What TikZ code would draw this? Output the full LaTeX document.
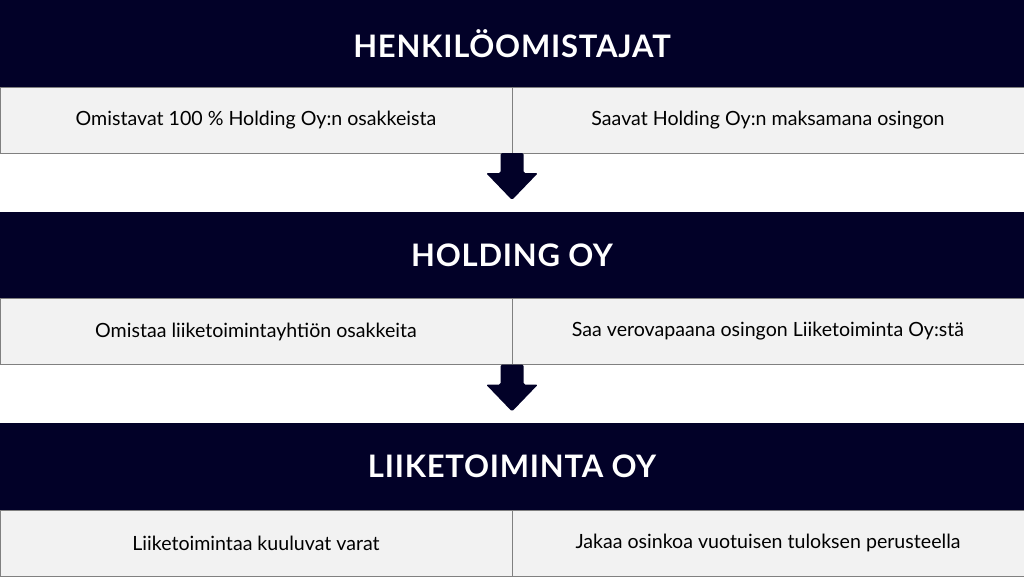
\documentclass[tikz,border=0pt]{standalone}
\usepackage{fontspec}
\setmainfont{Lato}
\newfontfamily\headfont[LetterSpace=2.5]{Lato}
\usetikzlibrary{positioning}

\definecolor{navy}{RGB}{2,1,40}
\definecolor{cellgrey}{RGB}{242,242,242}
\definecolor{linegrey}{RGB}{128,128,128}

\tikzset{
  headbar/.style={rectangle, fill=navy, text=white, minimum width=1024pt, minimum height=87pt, inner sep=0pt, outer sep=0pt, font=\headfont\bfseries\fontsize{31}{36}\selectfont},
  cell/.style={rectangle, draw=linegrey, line width=1pt, fill=cellgrey, minimum width=512pt, minimum height=66pt, inner sep=0pt, outer sep=0pt, font=\fontsize{19.6}{23}\selectfont},
  blockarrow/.style={fill=navy, rounded corners=1.5pt}
}

\begin{document}
\begin{tikzpicture}[x=1pt, y=1pt]
    \useasboundingbox (0,0) rectangle (1024,-576);
    \node[headbar] (owners) at (512,-43.5) {HENKILÖOMISTAJAT};
    \node[cell, below right=0pt and 0pt of owners.south west] (owna) {Omistavat 100 \% Holding Oy:n osakkeista};
    \node[cell, right=0pt of owna] (ownb) {Saavat Holding Oy:n maksamana osingon};
    \node[headbar, below=58.5pt of owna.south east] (holding) {HOLDING OY};
    \node[cell, below right=0pt and 0pt of holding.south west] (holda) {Omistaa liiketoimintayhtiön osakkeita};
    \node[cell, right=0pt of holda] (holdb) {Saa verovapaana osingon Liiketoiminta Oy:stä};
    \node[headbar, below=58.5pt of holda.south east] (business) {LIIKETOIMINTA OY};
    \node[cell, below right=0pt and 0pt of business.south west] (busa) {Liiketoimintaa kuuluvat varat};
    \node[cell, right=0pt of busa] (busb) {Jakaa osinkoa vuotuisen tuloksen perusteella};
    % block arrows between the levels
    \fill[blockarrow] (owna.south east) ++(-11.5,0) -- ++(23,0) -- ++(0,-20) -- ++(14.5,0) -- ++(-26,-27) -- ++(-26,27) -- ++(14.5,0) -- cycle;
    \fill[blockarrow] (holda.south east) ++(-11.5,0) -- ++(23,0) -- ++(0,-20) -- ++(14.5,0) -- ++(-26,-27) -- ++(-26,27) -- ++(14.5,0) -- cycle;
\end{tikzpicture}
\end{document}
